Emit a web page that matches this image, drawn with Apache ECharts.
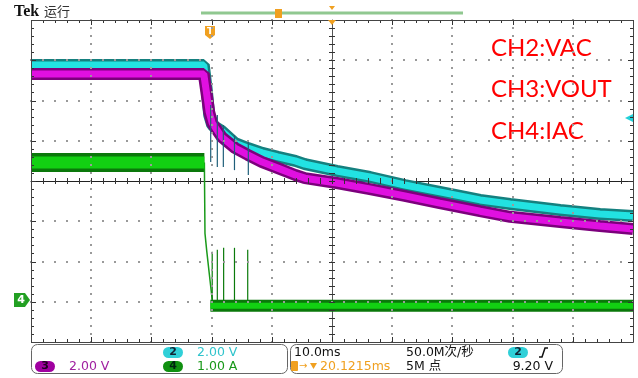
<!DOCTYPE html>
<html><head><meta charset="utf-8">
<script src="https://cdn.jsdelivr.net/npm/echarts@6/dist/echarts.min.js"></script>
<style>html,body{margin:0;padding:0;background:#fff}#c{width:638px;height:378px}</style>
</head><body><div id="c"></div>
<script>
// Time in ms relative to screen centre (10 ms/div); level in screen divisions (8 div tall)
const vacTime  = [-50, -21.3, -20.8, -20.4, -19.9, -18.3, -16.1, -14.0, -11.6, -9.0, -6.1, -4.5, 0.8, 6.3, 12.1, 17.9, 24.6, 29.6, 37.9, 44.5, 50];
const vacLevel = [2.88, 2.88, 2.26, 1.64, 1.39, 1.24, 0.94, 0.82, 0.70, 0.60, 0.50, 0.42, 0.25, 0.10, -0.10, -0.27, -0.47, -0.57, -0.72, -0.82, -0.87];

const voutTime  = [-50, -21.3, -20.8, -20.4, -19.9, -18.3, -16.1, -14.0, -11.6, -9.0, -6.1, -4.5, 0.8, 6.3, 12.1, 17.9, 24.6, 29.6, 37.9, 44.5, 50];
const voutLevel = [2.66, 2.66, 2.14, 1.71, 1.44, 1.09, 0.82, 0.65, 0.47, 0.32, 0.15, 0.07, -0.05, -0.20, -0.37, -0.55, -0.75, -0.89, -1.02, -1.12, -1.19];

const iacOnTime   = [-50, -21.2];
const iacOnLevel  = [0.46, 0.46];
const iacDropTime  = [-21.2, -21.1, -20.8, -19.9];
const iacDropLevel = [0.46, -1.30, -1.75, -2.95];
const iacOffTime  = [-20.2, 50];
const iacOffLevel = [-3.10, -3.10];

// glitch spikes: time, low, high
const iacSpikeTime = [-19.9, -19.05, -18.0, -16.2, -14.0];
const iacSpikeTop  = [-1.76, -1.71, -1.66, -1.66, -1.71];
const iacSpikeBase = [-3.0, -3.0, -3.0, -3.0, -3.0];

const vSpikeTime = [-20.15, -19.05, -18.05, -16.2, -13.9];
const vSpikeTop  = [1.89, 1.64, 1.39, 1.14, 0.97];
const vSpikeLow  = [0.47, 0.35, 0.35, 0.27, 0.15];

const labels = ['CH2:VAC', 'CH3:VOUT', 'CH4:IAC'];

// graticule: 10 x 8 divisions, 5 minor ticks per division
const X_MIN = -50, X_MAX = 50, X_DIV = 10, Y_MIN = -4, Y_MAX = 4, Y_DIV = 1, MINOR = 5;

const pairs = (t, v) => t.map((x, i) => [x, v[i]]);
const triples = (t, a, b) => t.map((x, i) => [x, a[i], b[i]]);

const xTicks = [], yTicks = [];
for (let i = 0; i <= (X_MAX - X_MIN) / X_DIV * MINOR; i++) xTicks.push([X_MIN + i * X_DIV / MINOR, 0, i % MINOR === 0 ? 1 : 0]);
for (let i = 0; i <= (Y_MAX - Y_MIN) / Y_DIV * MINOR; i++) yTicks.push([0, Y_MIN + i * Y_DIV / MINOR, i % MINOR === 0 ? 1 : 0]);

// graticule dots along interior division lines
const gridDots = [];
xTicks.forEach(xt => {
  if (xt[2] === 1 && xt[0] !== X_MIN && xt[0] !== X_MAX && xt[0] !== 0)
    yTicks.forEach(yt => gridDots.push([xt[0], yt[1]]));
});
yTicks.forEach(yt => {
  if (yt[2] === 1 && yt[1] !== Y_MIN && yt[1] !== Y_MAX && yt[1] !== 0)
    xTicks.forEach(xt => gridDots.push([xt[0], yt[1]]));
});

function band(name, data, outer, inner, cEdge, cCore, z) {
  return [
    {type:'line', name:name, data:data, showSymbol:false, symbol:'none', silent:true, z:z,
     lineStyle:{color:cEdge, width:outer, join:'bevel', cap:'butt'}},
    {type:'line', name:name+'core', data:data, showSymbol:false, symbol:'none', silent:true, z:z+0.5,
     lineStyle:{color:cCore, width:inner, join:'bevel', cap:'butt'}}
  ];
}
function spikes(data, color, z) {
  return {type:'custom', data:data, z:z, silent:true,
    encode:{x:0, y:[1,2]},
    renderItem:(p, api) => {
      const a = api.coord([api.value(0), api.value(1)]);
      const b = api.coord([api.value(0), api.value(2)]);
      return {type:'line', shape:{x1:a[0], y1:a[1], x2:b[0], y2:b[1]}, style:{stroke:color, lineWidth:1.2}};
    }};
}
const tickStyle = {stroke:'#333', lineWidth:1};
const snap = v => Math.round(v) + 0.5;
function tickSeries(data, vertical) {
  return {type:'custom', data:data, z:12, silent:true, encode:{x:0, y:1},
    renderItem:(p, api) => {
      const major = api.value(2) === 1;
      const e = major ? 5 : 3;
      const children = [];
      if (vertical) {
        const x = snap(api.coord([api.value(0), 0])[0]);
        const yTop = api.coord([0, Y_MAX])[1], yBot = api.coord([0, Y_MIN])[1], yMid = api.coord([0, 0])[1];
        children.push({type:'line', shape:{x1:x, y1:yTop, x2:x, y2:yTop + e}, style:tickStyle});
        children.push({type:'line', shape:{x1:x, y1:yBot, x2:x, y2:yBot - e}, style:tickStyle});
        children.push({type:'line', shape:{x1:x, y1:yMid - 3, x2:x, y2:yMid + 3}, style:tickStyle});
      } else {
        const y = snap(api.coord([0, api.value(1)])[1]);
        const xL = api.coord([X_MIN, 0])[0], xR = api.coord([X_MAX, 0])[0], xM = api.coord([0, 0])[0];
        children.push({type:'line', shape:{x1:xL, y1:y, x2:xL + e, y2:y}, style:tickStyle});
        children.push({type:'line', shape:{x1:xR, y1:y, x2:xR - e, y2:y}, style:tickStyle});
        children.push({type:'line', shape:{x1:xM - 3, y1:y, x2:xM + 3, y2:y}, style:tickStyle});
      }
      return {type:'group', children:children};
    }};
}
const dotSeries = {type:'custom', data:gridDots, z:11, silent:true, encode:{x:0, y:1},
  renderItem:(p, api) => {
    const c = api.coord([api.value(0), api.value(1)]);
    return {type:'rect', shape:{x:Math.round(c[0]) - 1, y:Math.round(c[1]) - 1, width:2, height:2},
      style:{fill:'#9a9a9a'}};
  }};
const frameSeries = {type:'custom', data:[[X_MIN, Y_MAX]], z:13, silent:true, encode:{x:0, y:1},
  renderItem:(p, api) => {
    const a = api.coord([X_MIN, Y_MAX]), b = api.coord([X_MAX, Y_MIN]);
    return {type:'rect', shape:{x:snap(a[0]), y:snap(a[1]), width:Math.round(b[0] - a[0]), height:Math.round(b[1] - a[1])},
      style:{fill:'none', stroke:'#444', lineWidth:1}};
  }};

const option = {
  animation:false,
  grid:{left:31, top:20, width:602, height:322, show:false},
  xAxis:{type:'value', min:X_MIN, max:X_MAX, interval:X_DIV,
     axisLabel:{show:false}, axisTick:{show:false}, splitLine:{show:false},
     axisLine:{show:true, onZero:true, lineStyle:{color:'#222', width:1}}},
  yAxis:{type:'value', min:Y_MIN, max:Y_MAX, interval:Y_DIV,
     axisLabel:{show:false}, axisTick:{show:false}, splitLine:{show:false},
     axisLine:{show:true, onZero:true, lineStyle:{color:'#555', width:1}}},
  series:[].concat(
    [dotSeries],
    band('VAC', pairs(vacTime, vacLevel), 12, 7, '#15807f', '#22e2e2', 2),
    band('VOUT', pairs(voutTime, voutLevel), 12, 7, '#7c007c', '#e010e0', 3),
    band('IACon', pairs(iacOnTime, iacOnLevel), 19, 12, '#0a780a', '#12d012', 4),
    [{type:'line', data:pairs(iacDropTime, iacDropLevel), showSymbol:false, symbol:'none', z:4,
      lineStyle:{color:'#1a9a1a', width:1.5}}],
    band('IACoff', pairs(iacOffTime, iacOffLevel), 12, 6, '#0a780a', '#12d012', 4),
    [spikes(triples(iacSpikeTime, iacSpikeBase, iacSpikeTop), '#0a7a0a', 5),
     spikes(triples(vSpikeTime, vSpikeLow, vSpikeTop), '#1f5f7a', 6),
     tickSeries(xTicks, true), tickSeries(yTicks, false), frameSeries]
  ),
  graphic:[
    // header
    {type:'text', left:14, top:4, style:{text:'Tek', font:'bold 16px "Liberation Serif"', fill:'#111'}},
    {type:'text', left:44, top:5, style:{text:'运行', font:'13px "Noto Sans CJK SC"', fill:'#333'}},
    {type:'line', shape:{x1:201, y1:13, x2:463, y2:13}, style:{stroke:'#90c890', lineWidth:3}},
    {type:'rect', shape:{x:275, y:9, width:7, height:9}, style:{fill:'#f0a020'}},
    {type:'polygon', shape:{points:[[329,6],[335,6],[332,10]]}, style:{fill:'#f0a020'}},
    {type:'polygon', shape:{points:[[328,20],[336,20],[332,25]]}, style:{fill:'#f0a020'}, z:20},
    {type:'polygon', shape:{points:[[205,26],[215,26],[215,35],[210,39],[205,35]]}, style:{fill:'#f0a020'}},
    {type:'text', x:210, y:32, style:{text:'T', font:'bold 9px "DejaVu Sans"', fill:'#fff', align:'center', verticalAlign:'middle'}},
    // channel markers
    {type:'polygon', shape:{points:[[14,293],[25,293],[30,300],[25,307],[14,307]]}, style:{fill:'#22a022'}},
    {type:'text', x:21, y:300, style:{text:'4', font:'bold 11px "DejaVu Sans"', fill:'#fff', align:'center', verticalAlign:'middle'}},
    {type:'polygon', shape:{points:[[625,118],[633,114],[633,122]]}, style:{fill:'#22d0d8'}},
    // red labels
    {type:'text', x:491, y:48, style:{text:labels[0], font:'24px Lato', fill:'#ff0000', verticalAlign:'middle'}},
    {type:'text', x:491, y:89, style:{text:labels[1], font:'24px Lato', fill:'#ff0000', verticalAlign:'middle'}},
    {type:'text', x:491, y:131, style:{text:labels[2], font:'24px Lato', fill:'#ff0000', verticalAlign:'middle'}},
    // status boxes
    {type:'rect', shape:{x:31.5, y:344.5, width:256, height:29, r:6}, style:{fill:'none', stroke:'#666', lineWidth:1}},
    {type:'rect', shape:{x:290.5, y:344.5, width:272, height:29, r:6}, style:{fill:'none', stroke:'#666', lineWidth:1}},
    {type:'rect', shape:{x:163, y:347, width:20, height:11, r:5.5}, style:{fill:'#30d0d8'}},
    {type:'text', x:173, y:352.5, style:{text:'2', font:'bold 11px "DejaVu Sans"', fill:'#123', align:'center', verticalAlign:'middle'}},
    {type:'text', x:197, y:352.5, style:{text:'2.00 V', font:'12.5px "DejaVu Sans"', fill:'#30c4cc', verticalAlign:'middle'}},
    {type:'rect', shape:{x:35, y:361, width:20, height:11, r:5.5}, style:{fill:'#a000a0'}},
    {type:'text', x:45, y:366.5, style:{text:'3', font:'bold 11px "DejaVu Sans"', fill:'#200020', align:'center', verticalAlign:'middle'}},
    {type:'text', x:69, y:366.5, style:{text:'2.00 V', font:'12.5px "DejaVu Sans"', fill:'#a020a0', verticalAlign:'middle'}},
    {type:'rect', shape:{x:163, y:361, width:20, height:11, r:5.5}, style:{fill:'#109010'}},
    {type:'text', x:173, y:366.5, style:{text:'4', font:'bold 11px "DejaVu Sans"', fill:'#021', align:'center', verticalAlign:'middle'}},
    {type:'text', x:197, y:366.5, style:{text:'1.00 A', font:'12.5px "DejaVu Sans"', fill:'#189818', verticalAlign:'middle'}},
    {type:'text', x:294, y:352.5, style:{text:'10.0ms', font:'12.5px "DejaVu Sans"', fill:'#111', verticalAlign:'middle'}},
    {type:'text', x:406, y:352.5, style:{text:'50.0M次/秒', font:'12.5px "DejaVu Sans","Noto Sans CJK SC"', fill:'#111', verticalAlign:'middle'}},
    {type:'rect', shape:{x:291, y:361, width:7, height:10, r:1}, style:{fill:'#f0a020'}},
    {type:'text', x:299, y:366.5, style:{text:'→', font:'10px "DejaVu Sans"', fill:'#f0a020', verticalAlign:'middle'}},
    {type:'polygon', shape:{points:[[310,363],[317,363],[313.5,369]]}, style:{fill:'#f0a020'}},
    {type:'text', x:320, y:366.5, style:{text:'20.1215ms', font:'12.5px "DejaVu Sans"', fill:'#f0a020', verticalAlign:'middle'}},
    {type:'text', x:406, y:366.5, style:{text:'5M 点', font:'12.5px "DejaVu Sans","Noto Sans CJK SC"', fill:'#111', verticalAlign:'middle'}},
    {type:'rect', shape:{x:508, y:347, width:20, height:11, r:5.5}, style:{fill:'#30d0d8'}},
    {type:'text', x:518, y:352.5, style:{text:'2', font:'bold 11px "DejaVu Sans"', fill:'#123', align:'center', verticalAlign:'middle'}},
    {type:'polyline', shape:{points:[[539,357],[542,357],[545,348],[548,348]]}, style:{stroke:'#111', lineWidth:1.5, fill:'none'}},
    {type:'text', x:553, y:366.5, style:{text:'9.20 V', font:'12.5px "DejaVu Sans"', fill:'#111', align:'right', verticalAlign:'middle'}}
  ]
};
const chart = echarts.init(document.getElementById('c'), null, {renderer:'canvas'});
chart.setOption(option);
</script>
</body></html>
